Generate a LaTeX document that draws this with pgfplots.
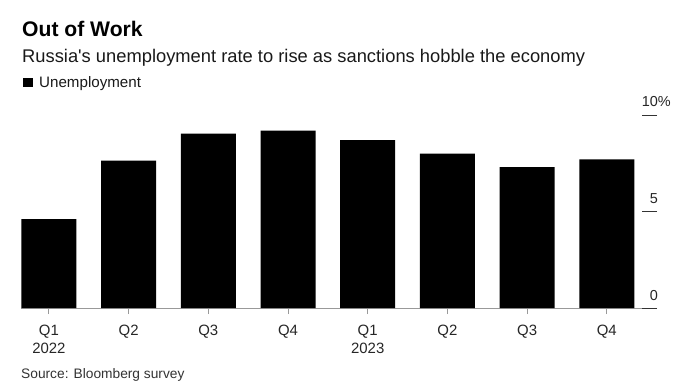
\documentclass[border=0pt]{standalone}
\usepackage{fontspec}
\setmainfont{Liberation Sans}[Ligatures=TeXOff]
\usepackage{pgfplots}
\pgfplotsset{compat=1.18}
\begin{document}
\begin{tikzpicture}[x=1bp,y=1bp]
\useasboundingbox (0,0) rectangle (700,382);
\node[anchor=base west, inner sep=0, font=\bfseries\fontsize{21.2}{25}\selectfont] at (22,346) {Out of Work};
\node[anchor=base west, inner sep=0, font=\fontsize{18.4}{22}\selectfont, text=black!90] at (22,319.5) {Russia's unemployment rate to rise as sanctions hobble the economy};
\fill (23,295) rectangle (33,304);
\node[anchor=base west, inner sep=0, font=\fontsize{15.2}{18}\selectfont, text=black!90] at (39,295) {Unemployment};
\node[anchor=base west, inner sep=0, font=\fontsize{13.8}{16}\selectfont, text=black!80] at (21,3.3) {Source: Bloomberg survey};
\begin{axis}[
  at={(21bp,74bp)}, anchor=south west,
  scale only axis, width=636bp, height=193bp,
  xmin=-0.35, xmax=7.63, ymin=0, ymax=10,
  axis x line=bottom, axis y line=none,
  x axis line style={-, draw=gray!80, line width=1bp},
  xtick={0,...,7},
  xticklabels={{Q1\\2022},Q2,Q3,Q4,{Q1\\2023},Q2,Q3,Q4},
  xticklabel style={align=center, font=\fontsize{15}{18}\selectfont, text=black!85, yshift=-8bp},
  xtick align=outside,
  major tick length=6bp,
  xtick style={draw=gray!80, line width=0.8bp},
  ybar, bar width=55bp, bar shift=0pt,
  clip=false,
]
\addplot[fill=black, draw=none] coordinates {
(0,4.6) (1,7.63) (2,9.03) (3,9.19) (4,8.7) (5,8.0) (6,7.3) (7,7.7)
};
\end{axis}
\begin{axis}[
  at={(21bp,74bp)}, anchor=south west,
  scale only axis, width=636bp, height=193bp,
  xmin=-0.35, xmax=7.63, ymin=0, ymax=10,
  axis x line=none, axis y line=right,
  y axis line style={draw=none},
  ytick={0,5,10},
  yticklabels={0,5,10\rlap{\%}},
  ytick align=inside,
  major tick length=15bp,
  ytick style={draw=black!80, line width=0.8bp},
  yticklabel style={anchor=base east, inner sep=0, xshift=1bp, yshift=8bp, font=\fontsize{14.5}{17}\selectfont, text=black!85},
  clip=false,
]
\end{axis}
\end{tikzpicture}
\end{document}
